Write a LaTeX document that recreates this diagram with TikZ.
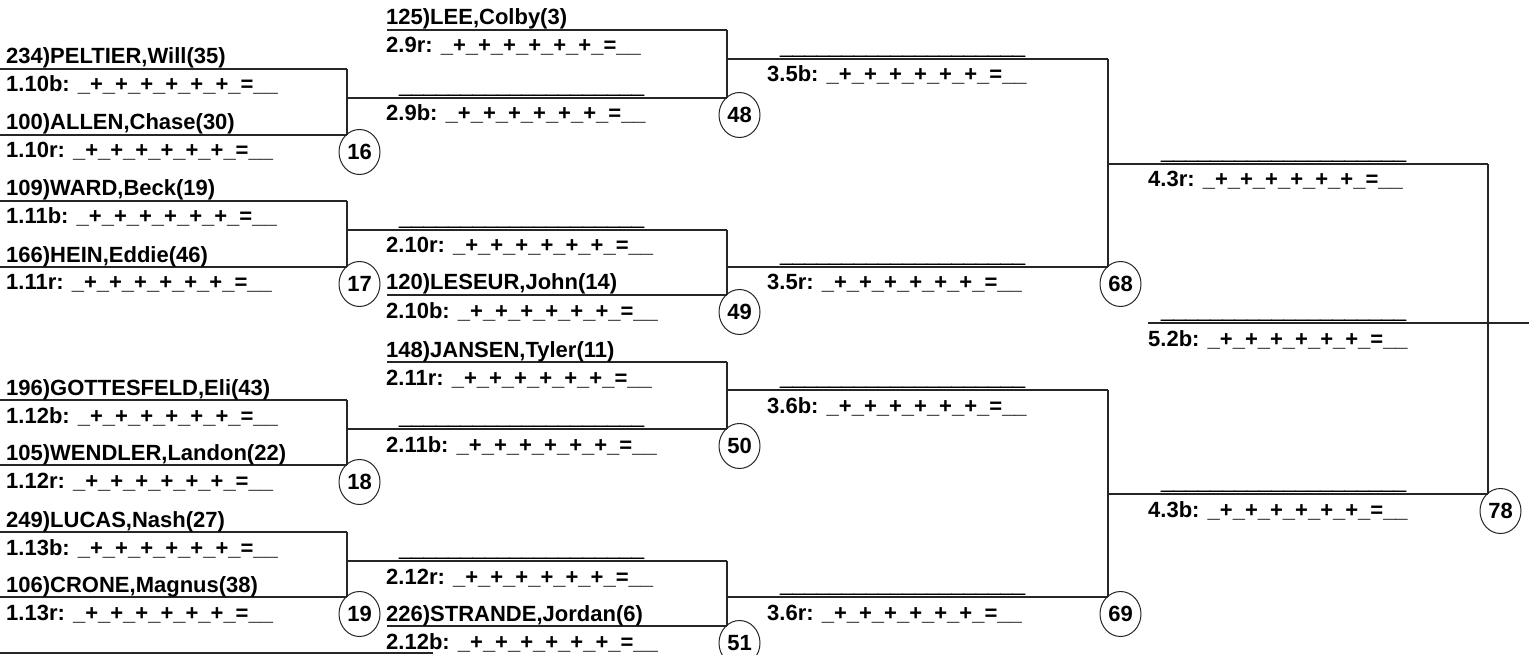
\documentclass[tikz,border=0pt]{standalone}
\usepackage{fontspec}
\setmainfont{Liberation Sans}
\newfontface\blankfont{Liberation Sans Bold}[FakeBold=2.5]
\usetikzlibrary{shapes.geometric,calc}
\newcommand\scoreline{\_+\_+\_+\_+\_+\_+\_=\_\_}
\newcommand\blankname{\kern13pt{\blankfont\_\_\_\_\_\_\_\_\_\_\_\_\_\_\_\_\_\_\_\_}}
% #1 id, #2 x left, #3 x right, #4 y of line, #5 text x, #6 name, #7 score label
\newcommand\bslot[7]{%
  \coordinate (#1-l) at (#2,#4);
  \coordinate (#1-r) at (#3,#4);
  \draw[bline] (#1-l) -- (#1-r);
  \node[lbl] (#1-n) at (#5,#4-5) {#6};
  \node[lbl] (#1-s) at (#5,#4+23) {#7 \scoreline};
}
\begin{document}
\begin{tikzpicture}[x=1pt,y=-1pt,
  bline/.style={line width=1.1pt, draw=black!85},
  lbl/.style={anchor=base west, inner sep=0pt, font=\bfseries\fontsize{22}{26}\selectfont},
  num/.style={draw=black!85, line width=1pt, ellipse, inner sep=0pt, minimum width=41pt, minimum height=45pt, font=\bfseries\fontsize{22}{26}\selectfont}]
\useasboundingbox (0,0) rectangle (1529,655);
% Round 1
\bslot{s110b}{0}{347}{69}{6}{234)PELTIER,Will(35)}{1.10b:}
\bslot{s110r}{0}{347}{135}{6}{100)ALLEN,Chase(30)}{1.10r:}
\bslot{s111b}{0}{347}{201}{6}{109)WARD,Beck(19)}{1.11b:}
\bslot{s111r}{0}{347}{267}{6}{166)HEIN,Eddie(46)}{1.11r:}
\bslot{s112b}{0}{347}{400}{6}{196)GOTTESFELD,Eli(43)}{1.12b:}
\bslot{s112r}{0}{347}{465}{6}{105)WENDLER,Landon(22)}{1.12r:}
\bslot{s113b}{0}{347}{532}{6}{249)LUCAS,Nash(27)}{1.13b:}
\bslot{s113r}{0}{347}{597}{6}{106)CRONE,Magnus(38)}{1.13r:}
% Round 2
\bslot{s29r}{387}{727}{30}{386}{125)LEE,Colby(3)}{2.9r:}
\bslot{s29b}{347}{727}{98}{386}{\blankname}{2.9b:}
\bslot{s210r}{347}{727}{230}{386}{\blankname}{2.10r:}
\bslot{s210b}{387}{727}{295}{386}{120)LESEUR,John(14)}{2.10b:}
\bslot{s211r}{387}{727}{362}{386}{148)JANSEN,Tyler(11)}{2.11r:}
\bslot{s211b}{347}{727}{429}{386}{\blankname}{2.11b:}
\bslot{s212r}{347}{727}{561}{386}{\blankname}{2.12r:}
\bslot{s212b}{387}{727}{626}{386}{226)STRANDE,Jordan(6)}{2.12b:}
% Round 3
\bslot{s35b}{727}{1108}{59}{767}{\blankname}{3.5b:}
\bslot{s35r}{727}{1108}{267}{767}{\blankname}{3.5r:}
\bslot{s36b}{727}{1108}{390}{767}{\blankname}{3.6b:}
\bslot{s36r}{727}{1108}{597}{767}{\blankname}{3.6r:}
% Round 4
\bslot{s43r}{1108}{1488}{164}{1148}{\blankname}{4.3r:}
\bslot{s43b}{1108}{1488}{494}{1148}{\blankname}{4.3b:}
\bslot{s52b}{1148}{1529}{323}{1148}{\blankname}{5.2b:}
% verticals
\draw[bline] (s110b-r) -- (s110r-r);
\draw[bline] (s111b-r) -- (s111r-r);
\draw[bline] (s112b-r) -- (s112r-r);
\draw[bline] (s113b-r) -- (s113r-r);
\draw[bline] (s29r-r) -- (s29b-r);
\draw[bline] (s210r-r) -- (s210b-r);
\draw[bline] (s211r-r) -- (s211b-r);
\draw[bline] (s212r-r) -- (s212b-r);
\draw[bline] (s35b-r) -- (s35r-r);
\draw[bline] (s36b-r) -- (s36r-r);
\draw[bline] (s43r-r) -- (s43b-r);
% bout numbers
\node[num] (c16) at ($(s110r-r)+(12.5,17)$) {16};
\node[num] (c17) at ($(s111r-r)+(12.5,17)$) {17};
\node[num] (c18) at ($(s112r-r)+(12.5,17)$) {18};
\node[num] (c19) at ($(s113r-r)+(12.5,17)$) {19};
\node[num] (c48) at ($(s29b-r)+(12.5,17)$) {48};
\node[num] (c49) at ($(s210b-r)+(12.5,17)$) {49};
\node[num] (c50) at ($(s211b-r)+(12.5,17)$) {50};
\node[num] (c51) at ($(s212b-r)+(12.5,17)$) {51};
\node[num] (c68) at ($(s35r-r)+(12.5,17)$) {68};
\node[num] (c69) at ($(s36r-r)+(12.5,17)$) {69};
\node[num] (c78) at ($(s43b-r)+(12.5,17)$) {78};
% bottom cut-off line
\coordinate (bl) at (0,653);
\coordinate (br) at (433,653);
\draw[bline] (bl) -- (br);
\end{tikzpicture}
\end{document}
